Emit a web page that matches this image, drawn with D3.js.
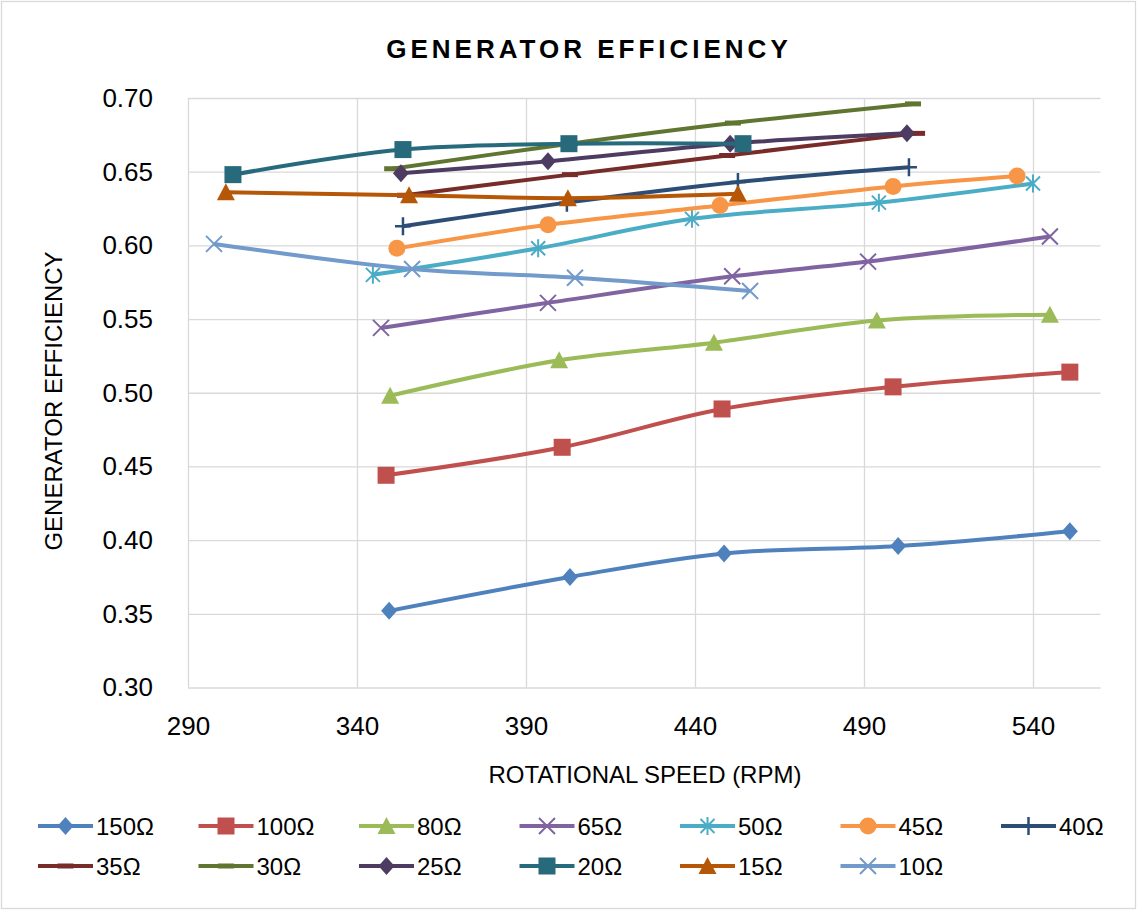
<!DOCTYPE html>
<html>
<head>
<meta charset="utf-8">
<script src="https://cdn.jsdelivr.net/npm/d3@7"></script>
<style>
  body { margin: 0; background: #fff; }
  text { font-family: "Liberation Sans", Arial, sans-serif; fill: #000; }
</style>
</head>
<body>
<div id="chart"></div>
<script>
// series names (load resistance)
const seriesNames = ['150Ω', '100Ω', '80Ω', '65Ω', '50Ω', '45Ω', '40Ω', '35Ω', '30Ω', '25Ω', '20Ω', '15Ω', '10Ω'];

// rotational speed (RPM) per series
const rpmValues = [
  [349.5, 403.0, 448.6, 500.1, 550.9],
  [348.6, 400.7, 448.0, 498.6, 550.9],
  [349.8, 399.8, 445.6, 493.8, 545.0],
  [347.1, 396.5, 451.0, 491.2, 545.0],
  [344.7, 393.6, 439.1, 494.4, 540.0],
  [351.8, 396.5, 447.4, 498.6, 535.3],
  [353.6, 402.1, 452.7, 503.3],
  [354.2, 403.0, 449.5, 505.7],
  [350.4, 403.0, 451.2, 504.5],
  [353.0, 396.5, 450.4, 502.7],
  [303.3, 353.6, 402.7, 454.2],
  [301.2, 355.4, 402.4, 452.7],
  [297.7, 356.3, 404.5, 456.3]
];

// generator efficiency per series
const effValues = [
  [0.352, 0.375, 0.391, 0.396, 0.406],
  [0.444, 0.463, 0.489, 0.504, 0.514],
  [0.498, 0.522, 0.534, 0.549, 0.553],
  [0.544, 0.561, 0.579, 0.589, 0.606],
  [0.580, 0.598, 0.618, 0.629, 0.642],
  [0.598, 0.614, 0.627, 0.640, 0.647],
  [0.613, 0.629, 0.643, 0.653],
  [0.634, 0.648, 0.661, 0.676],
  [0.652, 0.669, 0.683, 0.696],
  [0.649, 0.657, 0.669, 0.676],
  [0.648, 0.665, 0.669, 0.669],
  [0.636, 0.634, 0.632, 0.635],
  [0.601, 0.584, 0.578, 0.569]
];

const xTicks = [290, 340, 390, 440, 490, 540];
const yTicks = [0.30, 0.35, 0.40, 0.45, 0.50, 0.55, 0.60, 0.65, 0.70];

// styles
const colors = ['#4F81BD', '#C0504D', '#9BBB59', '#8064A2', '#4BACC6', '#F79646', '#2C4D75',
  '#772C2A', '#5F7530', '#4D3B62', '#276A7C', '#B65708', '#729ACA'];
const markers = ['diamond', 'square', 'triangle', 'x', 'asterisk', 'circle', 'plus',
  'dash', 'dash', 'diamond', 'square', 'triangle', 'x'];

const width = 1137;
const height = 910;
const margin = { top: 98, left: 188 };
const w = 912.6;
const h = 589.5;

const svg = d3.select('#chart')
  .append('svg')
  .attr('width', width)
  .attr('height', height);

// outer border
svg.append('rect')
  .attr('x', 1.5).attr('y', 1.5)
  .attr('width', width - 3).attr('height', height - 3)
  .attr('fill', '#fff')
  .attr('stroke', '#D9D9D9')
  .attr('stroke-width', 1.3);

// title
const titleSpacing = 4;
svg.append('text')
  .attr('x', 587 + titleSpacing / 2)
  .attr('y', 58)
  .attr('text-anchor', 'middle')
  .attr('font-weight', 'bold')
  .attr('font-size', 26)
  .attr('letter-spacing', titleSpacing)
  .text('GENERATOR EFFICIENCY');

const chart = svg.append('g').attr('transform', `translate(${margin.left}, ${margin.top})`);

const xScale = d3.scaleLinear().domain([290, 560]).range([0, w]);
const yScale = d3.scaleLinear().domain([0.30, 0.70]).range([h, 0]);

// axes with gridlines
const xAxis = chart.append('g')
  .attr('transform', `translate(0, ${h})`)
  .call(d3.axisBottom(xScale).tickValues(xTicks).tickSize(-h).tickPadding(29).tickFormat(d3.format('d')));
const yAxis = chart.append('g')
  .call(d3.axisLeft(yScale).tickValues(yTicks).tickSize(-w).tickPadding(35).tickFormat(d3.format('.2f')));

[xAxis, yAxis].forEach((ax) => {
  ax.select('.domain').remove();
  ax.selectAll('line').attr('stroke', '#D9D9D9').attr('stroke-width', 1.3);
  ax.selectAll('text')
    .attr('font-family', '"Liberation Sans", Arial, sans-serif')
    .attr('font-size', 26)
    .attr('fill', '#000');
});

// axis titles
svg.append('text')
  .attr('x', 645)
  .attr('y', 783)
  .attr('text-anchor', 'middle')
  .attr('font-size', 24)
  .text('ROTATIONAL SPEED (RPM)');

svg.append('text')
  .attr('transform', 'translate(62, 401) rotate(-90)')
  .attr('text-anchor', 'middle')
  .attr('font-size', 24)
  .text('GENERATOR EFFICIENCY');

// marker drawing
const drawMarker = (g, type, color) => {
  switch (type) {
    case 'diamond':
      g.append('path').attr('d', 'M0,-9L8,0L0,9L-8,0Z').attr('fill', color);
      break;
    case 'square':
      g.append('rect').attr('x', -8.5).attr('y', -8.5).attr('width', 17).attr('height', 17).attr('fill', color);
      break;
    case 'triangle':
      g.append('path').attr('d', 'M0,-9L9,8L-9,8Z').attr('fill', color);
      break;
    case 'circle':
      g.append('circle').attr('r', 8.5).attr('fill', color);
      break;
    case 'x':
      g.append('path').attr('d', 'M-8,-8L8,8M-8,8L8,-8').attr('stroke', color).attr('stroke-width', 2).attr('fill', 'none');
      break;
    case 'asterisk':
      g.append('path').attr('d', 'M-7,-7L7,7M-7,7L7,-7M0,-9L0,9').attr('stroke', color).attr('stroke-width', 2).attr('fill', 'none');
      break;
    case 'plus':
      g.append('path').attr('d', 'M-8,0L8,0M0,-9L0,9').attr('stroke', color).attr('stroke-width', 2.5).attr('fill', 'none');
      break;
    case 'dash':
      g.append('path').attr('d', 'M-8,0L8,0').attr('stroke', color).attr('stroke-width', 5).attr('fill', 'none');
      break;
    default:
      break;
  }
};

// series
const line = d3.line()
  .x((d) => xScale(d[0]))
  .y((d) => yScale(d[1]))
  .curve(d3.curveCatmullRom.alpha(0.5));

seriesNames.forEach((name, i) => {
  const pts = rpmValues[i].map((r, j) => [r, effValues[i][j]]);
  const g = chart.append('g').attr('class', 'series');
  g.append('path')
    .datum(pts)
    .attr('d', line)
    .attr('fill', 'none')
    .attr('stroke', colors[i])
    .attr('stroke-width', 4)
    .attr('stroke-linejoin', 'round');
  g.selectAll('.mk')
    .data(pts).enter()
    .append('g')
    .attr('class', 'mk')
    .attr('transform', (d) => `translate(${xScale(d[0])}, ${yScale(d[1])})`)
    .each(function m() { drawMarker(d3.select(this), markers[i], colors[i]); });
});

// legend
const legend = svg.append('g');
seriesNames.forEach((name, i) => {
  const col = i < 7 ? i : i - 7;
  const row = i < 7 ? 0 : 1;
  const item = legend.append('g')
    .attr('transform', `translate(${38 + col * 160.5}, ${826 + row * 40})`);
  item.append('line')
    .attr('x1', 0).attr('x2', 55)
    .attr('stroke', colors[i])
    .attr('stroke-width', 4);
  drawMarker(item.append('g').attr('transform', 'translate(27.5, 0)'), markers[i], colors[i]);
  item.append('text')
    .attr('x', 58)
    .attr('y', 9)
    .attr('font-size', 24)
    .text(name);
});
</script>
</body>
</html>
